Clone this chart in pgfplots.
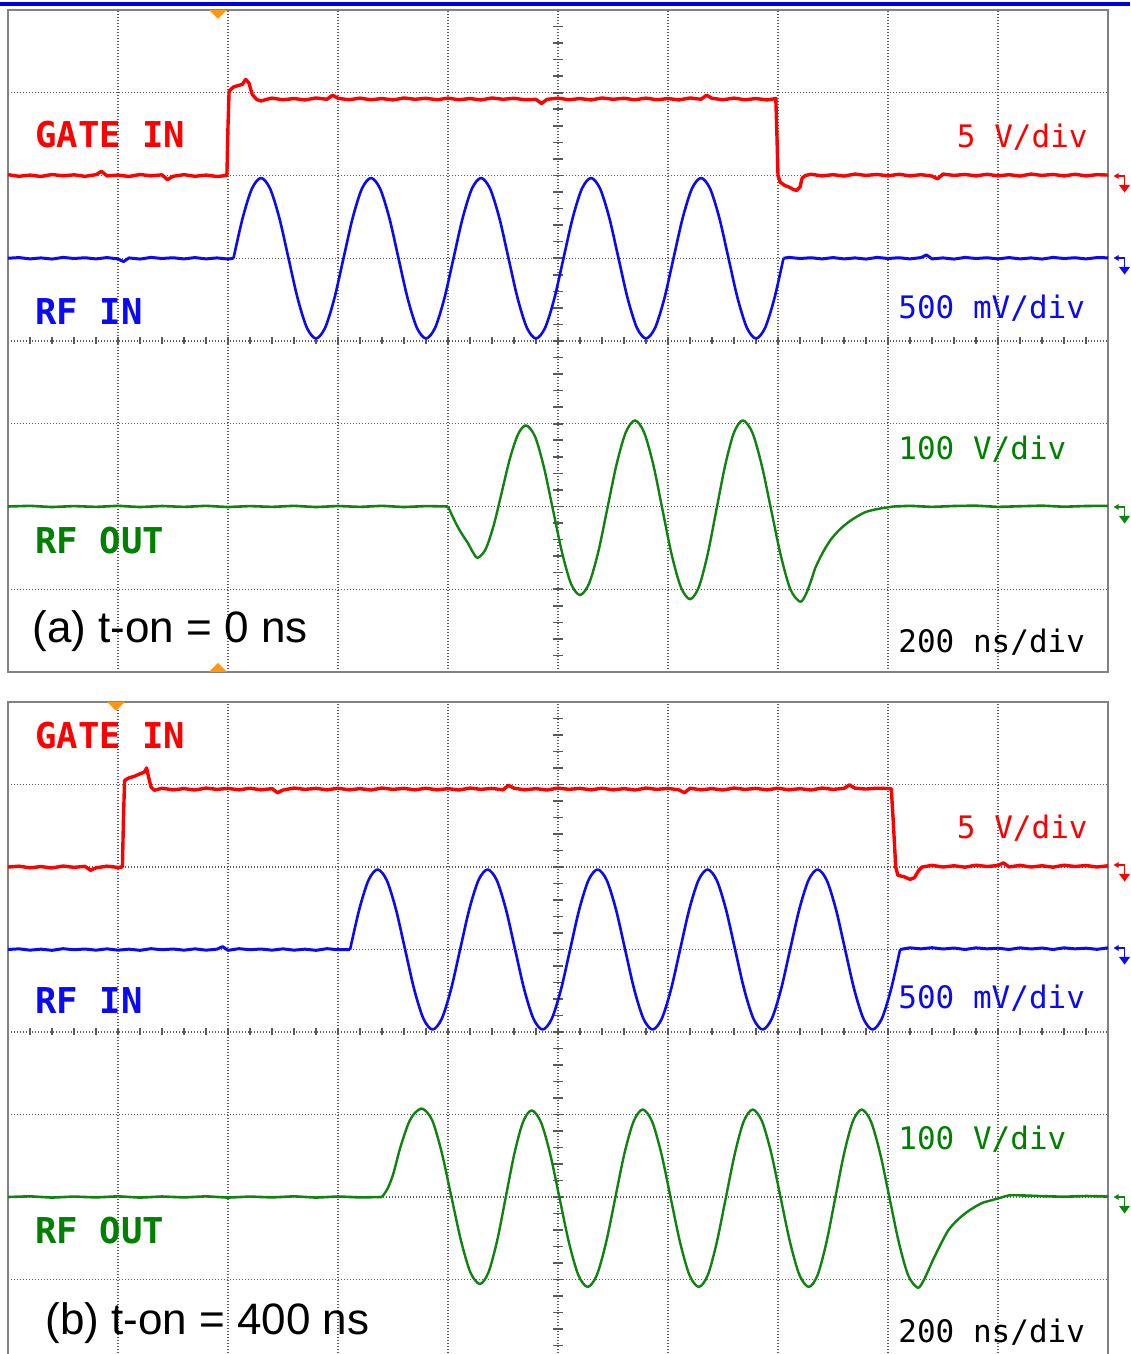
\documentclass[border=0pt]{standalone}
\usepackage{pgfplots}
\pgfplotsset{compat=1.18}
\usepackage{fontspec}
\setmainfont{Liberation Sans}
\newfontfamily\mono{DejaVu Sans Mono}
\definecolor{scred}{RGB}{255,0,0}
\definecolor{scblue}{RGB}{10,10,245}
\definecolor{scgreen}{RGB}{15,130,15}
\definecolor{txtgreen}{RGB}{0,128,0}
\definecolor{trig}{RGB}{255,150,20}
\definecolor{framec}{RGB}{130,130,130}
\definecolor{gridc}{RGB}{90,90,90}
\definecolor{topblue}{RGB}{0,0,230}
\pgfplotsset{osc/.style={
  scale only axis, width=550pt,
  xmin=0, xmax=10, ymin=0, ymax=8,
  xtick={1,2,...,9}, ytick={1,2,...,7},
  xticklabels={}, yticklabels={},
  major tick length=0pt,
  xmajorgrids, ymajorgrids,
  major grid style={draw=gridc, line width=0.7pt, dash pattern=on 0.7pt off 0.8pt},
  axis line style={draw=framec, line width=1pt},
  every axis plot/.append style={line join=round},
  anchor=south west,
}}
\newcommand{\chmark}[2]{%
  \draw[#1, line width=0.7pt] (558pt,#2) -- (562.3pt,#2) -- (562.3pt,#2-4.5pt);
  \fill[#1] (556.8pt,#2) -- (559.3pt,#2+1.5pt) -- (559.3pt,#2-1.5pt) -- cycle;
  \fill[#1] (559.5pt,#2-4.5pt) -- (565pt,#2-4.5pt) -- (562.3pt,#2-8.3pt) -- cycle;}
\begin{document}
\begin{tikzpicture}
\useasboundingbox (0,0) rectangle (565pt,677pt);
\clip (0,0) rectangle (565pt,677pt);
\fill[topblue] (0,674pt) rectangle (565pt,676pt);
% centre tick marks (a)
\foreach \i in {1,...,49} \draw[gridc, line width=0.8pt] ({(4+11*\i)*1pt},504.75pt) -- ++(0,3.5pt);
\foreach \j in {1,...,39} \draw[gridc, line width=0.8pt] (276.5pt,{(341+8.275*\j)*1pt}) -- ++(5pt,0);
% centre tick marks (b)
\foreach \i in {1,...,49} \draw[gridc, line width=0.8pt] ({(4+11*\i)*1pt},159.25pt) -- ++(0,3.5pt);
\foreach \j in {1,...,39} \draw[gridc, line width=0.8pt] (276.5pt,{(-4+8.25*\j)*1pt}) -- ++(5pt,0);

% ================= panel (a) =================
\begin{axis}[osc, at={(4pt,341pt)}, height=331pt]
\addplot[scred, line width=1.7pt] coordinates {
(0,6.01) (0.1,5.99) (0.2,6.005) (0.3,5.988) (0.4,6.012) (0.5,5.996) (0.6,6.008) (0.7,5.99) (0.8,6.01) (0.85,6.05) (0.9,5.995) (1.0,6.005) (1.1,5.988) (1.2,6.012) (1.3,5.996) (1.4,6.008) (1.45,5.95) (1.5,5.99) (1.6,6.01) (1.7,5.99) (1.8,6.005) (1.9,5.988) (1.99,6.0)
(2.0,6.6) (2.01,7.02) (2.05,7.07) (2.1,7.09) (2.13,7.1) (2.16,7.16) (2.19,7.12) (2.22,6.98) (2.26,6.92) (2.3,6.9) (2.35,6.92)
(2.4,6.935) (2.5,6.915) (2.6,6.93) (2.7,6.913) (2.8,6.937) (2.9,6.921) (2.95,6.97) (3.0,6.933) (3.1,6.915) (3.2,6.935) (3.3,6.915) (3.4,6.93) (3.5,6.913) (3.6,6.937) (3.7,6.921) (3.8,6.933) (3.9,6.915) (4.0,6.935) (4.1,6.915) (4.2,6.93) (4.3,6.913) (4.4,6.937) (4.5,6.921) (4.6,6.933) (4.7,6.915) (4.8,6.92) (4.85,6.87) (4.9,6.92) (5.0,6.935) (5.1,6.915) (5.2,6.93) (5.3,6.913) (5.4,6.937) (5.5,6.921) (5.6,6.933) (5.7,6.915) (5.8,6.935) (5.9,6.915) (6.0,6.93) (6.1,6.913) (6.2,6.937) (6.3,6.921) (6.35,6.97) (6.4,6.933) (6.5,6.915) (6.6,6.935) (6.7,6.915) (6.8,6.93) (6.9,6.913) (6.98,6.93)
(6.99,6.5) (7.0,6.0) (7.02,5.92) (7.06,5.88) (7.1,5.86) (7.14,5.83) (7.17,5.82) (7.2,5.86) (7.22,5.97) (7.25,6.0)
(7.3,6.015) (7.4,5.995) (7.5,6.01) (7.6,5.993) (7.7,6.017) (7.8,6.001) (7.9,6.013) (8.0,5.995) (8.1,6.015) (8.2,5.995) (8.3,6.01) (8.4,5.993) (8.45,5.96) (8.5,6.017) (8.6,6.001) (8.7,6.013) (8.8,5.995) (8.9,6.015) (9.0,5.995) (9.1,6.01) (9.2,5.993) (9.3,6.017) (9.4,6.001) (9.5,6.013) (9.6,5.995) (9.7,6.015) (9.8,5.995) (9.9,6.01) (10,6.005)
};
\addplot[scblue, line width=1.5pt] coordinates {
(0,5.0) (0.1,5.008) (0.2,4.992) (0.3,5.004) (0.4,4.99) (0.5,5.01) (0.6,4.997) (0.7,5.006) (0.8,4.992) (0.9,5.008) (1.0,4.992) (1.05,4.96) (1.1,5.004) (1.2,4.99) (1.3,5.01) (1.4,4.997) (1.5,5.006) (1.6,4.992) (1.7,5.008) (1.8,4.992) (1.9,5.004) (2.0,4.99) (2.05,5.0)
};
\addplot[scblue, line width=1.3pt, smooth] coordinates {
(2.050,5.000) (2.133,5.485) (2.217,5.840) (2.300,5.970) (2.383,5.840) (2.467,5.485) (2.550,5.000) (2.633,4.515) (2.717,4.160) (2.800,4.030) (2.883,4.160) (2.967,4.515)
(3.050,5.000) (3.133,5.485) (3.217,5.840) (3.300,5.970) (3.383,5.840) (3.467,5.485) (3.550,5.000) (3.633,4.515) (3.717,4.160) (3.800,4.030) (3.883,4.160) (3.967,4.515)
(4.050,5.000) (4.133,5.485) (4.217,5.840) (4.300,5.970) (4.383,5.840) (4.467,5.485) (4.550,5.000) (4.633,4.515) (4.717,4.160) (4.800,4.030) (4.883,4.160) (4.967,4.515)
(5.050,5.000) (5.133,5.485) (5.217,5.840) (5.300,5.970) (5.383,5.840) (5.467,5.485) (5.550,5.000) (5.633,4.515) (5.717,4.160) (5.800,4.030) (5.883,4.160) (5.967,4.515)
(6.050,5.000) (6.133,5.485) (6.217,5.840) (6.300,5.970) (6.383,5.840) (6.467,5.485) (6.550,5.000) (6.633,4.515) (6.717,4.160) (6.800,4.030) (6.883,4.160) (6.967,4.515)
(7.050,5.000)
};
\addplot[scblue, line width=1.5pt] coordinates {
(7.05,5.0) (7.1,5.01) (7.2,4.997) (7.3,5.006) (7.4,4.992) (7.5,5.008) (7.6,4.992) (7.7,5.004) (7.8,4.99) (7.9,5.01) (8.0,4.997) (8.1,5.006) (8.2,4.992) (8.3,5.008) (8.35,5.04) (8.4,4.992) (8.5,5.004) (8.6,4.99) (8.7,5.01) (8.8,4.997) (8.9,5.006) (9.0,4.992) (9.1,5.008) (9.2,4.992) (9.3,5.004) (9.4,4.99) (9.5,5.01) (9.6,4.997) (9.7,5.006) (9.8,4.992) (9.9,5.008) (10,5.005)
};
\addplot[scgreen, line width=1.3pt] coordinates {
(0,2.0) (0.2,2.008) (0.4,1.993) (0.6,2.005) (0.8,1.995) (1.0,2.008) (1.2,1.993) (1.4,2.006) (1.6,1.995) (1.8,2.008) (2.0,1.993) (2.2,2.005) (2.4,1.995) (2.6,2.008) (2.8,1.993) (3.0,2.006) (3.2,1.995) (3.4,2.008) (3.6,1.993) (3.8,2.005) (4.0,2.0)
};
\addplot[scgreen, line width=1.2pt, smooth] coordinates {
(4.0,2.0) (4.045,1.87) (4.09,1.75) (4.135,1.65) (4.18,1.56) (4.225,1.45) (4.27,1.38) (4.343,1.487) (4.417,1.78) (4.490,2.18) (4.563,2.58) (4.637,2.873) (4.710,2.98) (4.792,2.843) (4.873,2.468) (4.955,1.955) (5.037,1.443) (5.118,1.067) (5.200,0.93) (5.283,1.071) (5.367,1.457) (5.450,1.985) (5.533,2.513) (5.617,2.899) (5.700,3.04) (5.783,2.895) (5.867,2.5) (5.950,1.96) (6.033,1.42) (6.117,1.025) (6.200,0.88) (6.28,1.025) (6.36,1.42) (6.44,1.96) (6.52,2.5) (6.60,2.895) (6.68,3.04) (6.767,2.893) (6.853,2.493) (6.940,1.945) (7.027,1.398) (7.113,0.997) (7.200,0.85) (7.25,0.93) (7.3,1.1) (7.34,1.26) (7.41,1.45) (7.48,1.6) (7.56,1.72) (7.65,1.82) (7.72,1.88) (7.79,1.93) (7.87,1.96) (7.95,1.98) (8.05,2.0)
};
\addplot[scgreen, line width=1.3pt] coordinates {
(8.05,2.0) (8.2,2.008) (8.4,1.995) (8.6,2.006) (8.8,2.01) (9.0,1.995) (9.2,2.003) (9.4,2.01) (9.6,1.997) (9.8,2.006) (10,2.008)
};
\end{axis}

% ================= panel (b) =================
\begin{axis}[osc, at={(4pt,-4pt)}, height=330pt]
\addplot[scred, line width=1.7pt] coordinates {
(0,6.0) (0.1,6.01) (0.2,5.99) (0.3,6.005) (0.4,5.988) (0.5,6.012) (0.6,5.996) (0.7,6.008) (0.75,5.96) (0.8,5.99) (0.9,6.01) (1.0,5.995) (1.04,6.0)
(1.045,6.3) (1.05,6.6) (1.06,7.05) (1.1,7.08) (1.15,7.1) (1.2,7.13) (1.24,7.15) (1.26,7.2) (1.28,7.08) (1.3,6.97) (1.33,6.93)
(1.4,6.955) (1.5,6.935) (1.6,6.95) (1.7,6.933) (1.8,6.957) (1.9,6.941) (2.0,6.953) (2.1,6.935) (2.2,6.955) (2.3,6.935) (2.4,6.95) (2.45,6.9) (2.5,6.933) (2.6,6.957) (2.7,6.941) (2.8,6.953) (2.9,6.935) (3.0,6.955) (3.1,6.935) (3.2,6.95) (3.3,6.933) (3.4,6.957) (3.5,6.941) (3.6,6.953) (3.7,6.935) (3.8,6.955) (3.9,6.935) (4.0,6.95) (4.1,6.933) (4.2,6.957) (4.3,6.941) (4.4,6.953) (4.5,6.935) (4.55,6.99) (4.6,6.955) (4.7,6.935) (4.8,6.95) (4.9,6.933) (5.0,6.957) (5.1,6.941) (5.2,6.953) (5.3,6.935) (5.4,6.955) (5.5,6.935) (5.6,6.95) (5.7,6.933) (5.8,6.957) (5.9,6.941) (6.0,6.953) (6.1,6.935) (6.15,6.9) (6.2,6.955) (6.3,6.935) (6.4,6.95) (6.5,6.933) (6.6,6.957) (6.7,6.941) (6.8,6.953) (6.9,6.935) (7.0,6.955) (7.1,6.935) (7.2,6.95) (7.3,6.933) (7.4,6.957) (7.5,6.941) (7.6,6.953) (7.65,6.995) (7.7,6.955) (7.8,6.945) (7.9,6.955) (8.03,6.95)
(8.05,6.5) (8.07,6.0) (8.09,5.9) (8.15,5.88) (8.2,5.85) (8.24,5.87) (8.28,5.96) (8.31,6.0)
(8.4,6.02) (8.5,6.0) (8.6,6.015) (8.7,5.998) (8.8,6.022) (8.9,6.006) (9.0,6.018) (9.05,6.05) (9.1,6.0) (9.2,6.02) (9.3,6.0) (9.4,6.015) (9.5,5.998) (9.6,6.022) (9.7,6.006) (9.8,6.018) (9.9,6.0) (10,6.015)
};
\addplot[scblue, line width=1.5pt] coordinates {
(0,5.0) (0.1,5.008) (0.2,4.992) (0.3,5.004) (0.4,4.99) (0.5,5.01) (0.6,4.997) (0.7,5.006) (0.8,4.992) (0.9,5.008) (1.0,4.992) (1.1,5.004) (1.2,4.99) (1.3,5.01) (1.4,4.997) (1.5,5.006) (1.6,4.992) (1.7,5.008) (1.8,4.992) (1.9,5.004) (1.95,5.035) (2.0,4.99) (2.1,5.01) (2.2,4.997) (2.3,5.006) (2.4,4.992) (2.5,5.008) (2.6,4.992) (2.7,5.004) (2.8,4.99) (2.9,5.01) (3.0,4.997) (3.11,5.0)
};
\addplot[scblue, line width=1.3pt, smooth] coordinates {
(3.110,5.000) (3.193,5.485) (3.277,5.840) (3.360,5.970) (3.443,5.840) (3.527,5.485) (3.610,5.000) (3.693,4.515) (3.777,4.160) (3.860,4.030) (3.943,4.160) (4.027,4.515)
(4.110,5.000) (4.193,5.485) (4.277,5.840) (4.360,5.970) (4.443,5.840) (4.527,5.485) (4.610,5.000) (4.693,4.515) (4.777,4.160) (4.860,4.030) (4.943,4.160) (5.027,4.515)
(5.110,5.000) (5.193,5.485) (5.277,5.840) (5.360,5.970) (5.443,5.840) (5.527,5.485) (5.610,5.000) (5.693,4.515) (5.777,4.160) (5.860,4.030) (5.943,4.160) (6.027,4.515)
(6.110,5.000) (6.193,5.485) (6.277,5.840) (6.360,5.970) (6.443,5.840) (6.527,5.485) (6.610,5.000) (6.693,4.515) (6.777,4.160) (6.860,4.030) (6.943,4.160) (7.027,4.515)
(7.110,5.000) (7.193,5.485) (7.277,5.840) (7.360,5.970) (7.443,5.840) (7.527,5.485) (7.610,5.000) (7.693,4.515) (7.777,4.160) (7.860,4.030) (7.943,4.160) (8.027,4.515)
(8.110,5.000)
};
\addplot[scblue, line width=1.5pt] coordinates {
(8.11,5.0) (8.2,5.02) (8.3,5.008) (8.4,5.022) (8.5,5.006) (8.6,5.018) (8.7,5.0) (8.8,5.02) (8.9,5.008) (9.0,5.016) (9.1,5.0) (9.2,5.02) (9.3,5.006) (9.4,5.018) (9.5,5.0) (9.6,5.02) (9.7,5.008) (9.8,5.016) (9.9,5.002) (10,5.02)
};
\addplot[scgreen, line width=1.3pt] coordinates {
(0,2.0) (0.2,2.008) (0.4,1.993) (0.6,2.005) (0.8,1.995) (1.0,2.008) (1.2,1.993) (1.4,2.006) (1.6,1.995) (1.8,2.008) (2.0,1.993) (2.2,2.005) (2.4,1.995) (2.6,2.008) (2.8,1.993) (3.0,2.006) (3.2,1.995) (3.4,2.0)
};
\addplot[scgreen, line width=1.2pt, smooth] coordinates {
(3.4,2.0) (3.45,2.1) (3.5,2.27) (3.56,2.57) (3.61,2.78) (3.65,2.92) (3.7,3.02) (3.77,3.07) (3.857,2.928) (3.943,2.539) (4.030,2.008) (4.117,1.477) (4.203,1.088) (4.290,0.945) (4.368,1.087) (4.447,1.472) (4.525,1.998) (4.603,2.524) (4.682,2.909) (4.760,3.05) (4.845,2.907) (4.930,2.515) (5.015,1.98) (5.100,1.445) (5.185,1.053) (5.270,0.91) (5.353,1.054) (5.437,1.448) (5.520,1.985) (5.603,2.523) (5.687,2.916) (5.770,3.06) (5.855,2.916) (5.940,2.523) (6.025,1.985) (6.110,1.448) (6.195,1.054) (6.280,0.91) (6.362,1.054) (6.443,1.448) (6.525,1.985) (6.607,2.523) (6.688,2.916) (6.770,3.06) (6.855,2.916) (6.940,2.523) (7.025,1.985) (7.110,1.448) (7.195,1.054) (7.280,0.91) (7.360,1.054) (7.440,1.448) (7.520,1.985) (7.600,2.523) (7.680,2.916) (7.760,3.06) (7.845,2.915) (7.930,2.52) (8.015,1.98) (8.100,1.44) (8.185,1.045) (8.270,0.90) (8.32,0.98) (8.37,1.12) (8.41,1.24) (8.48,1.43) (8.55,1.6) (8.63,1.72) (8.72,1.82) (8.79,1.88) (8.86,1.93) (8.94,1.96) (9.02,1.99) (9.1,2.02) (9.2,2.02)
};
\addplot[scgreen, line width=1.3pt] coordinates {
(9.2,2.02) (9.4,2.01) (9.6,2.003) (9.8,2.012) (10,2.005)
};
\end{axis}

% trigger markers
\fill[trig] (104.5pt,672pt) -- (113.5pt,672pt) -- (109pt,667.5pt) -- cycle;
\fill[trig] (104.5pt,341pt) -- (113.5pt,341pt) -- (109pt,345.5pt) -- cycle;
\fill[trig] (53.5pt,326pt) -- (62.5pt,326pt) -- (58pt,321.5pt) -- cycle;
% channel markers
\chmark{scred}{589pt}
\chmark{scblue}{548pt}
\chmark{scgreen}{423.5pt}
\chmark{scred}{244.5pt}
\chmark{scblue}{203pt}
\chmark{scgreen}{78.5pt}

\begin{scope}[every node/.style={inner sep=0pt}]
% labels (a)
\node[anchor=base west, text=scred, font=\mono\bfseries\fontsize{17.8}{20}\selectfont] at (17.5pt,603pt) {GATE IN};
\node[anchor=base west, text=scblue, font=\mono\bfseries\fontsize{17.8}{20}\selectfont] at (17.5pt,514.5pt) {RF IN};
\node[anchor=base west, text=txtgreen, font=\mono\bfseries\fontsize{17.8}{20}\selectfont] at (17.5pt,400pt) {RF OUT};
\node[anchor=base east, text=scred, font=\mono\fontsize{15.5}{18}\selectfont] at (544pt,603pt) {5 V/div};
\node[anchor=base west, text=scblue, font=\mono\fontsize{15.5}{18}\selectfont] at (449pt,517.5pt) {500 mV/div};
\node[anchor=base west, text=txtgreen, font=\mono\fontsize{15.5}{18}\selectfont] at (449pt,447pt) {100 V/div};
\node[anchor=base west, text=black, font=\mono\fontsize{15.5}{18}\selectfont] at (449pt,350.5pt) {200 ns/div};
\node[anchor=base west, text=black, font=\fontsize{22}{24}\selectfont] at (16pt,355.5pt) {(a) t-on = 0 ns};
% labels (b)
\node[anchor=base west, text=scred, font=\mono\bfseries\fontsize{17.8}{20}\selectfont] at (17.5pt,302.5pt) {GATE IN};
\node[anchor=base west, text=scblue, font=\mono\bfseries\fontsize{17.8}{20}\selectfont] at (17.5pt,170pt) {RF IN};
\node[anchor=base west, text=txtgreen, font=\mono\bfseries\fontsize{17.8}{20}\selectfont] at (17.5pt,55pt) {RF OUT};
\node[anchor=base east, text=scred, font=\mono\fontsize{15.5}{18}\selectfont] at (544pt,257.5pt) {5 V/div};
\node[anchor=base west, text=scblue, font=\mono\fontsize{15.5}{18}\selectfont] at (449pt,172.5pt) {500 mV/div};
\node[anchor=base west, text=txtgreen, font=\mono\fontsize{15.5}{18}\selectfont] at (449pt,102pt) {100 V/div};
\node[anchor=base west, text=black, font=\mono\fontsize{15.5}{18}\selectfont] at (449pt,5.5pt) {200 ns/div};
\node[anchor=base west, text=black, font=\fontsize{22}{24}\selectfont] at (22.5pt,9.5pt) {(b) t-on = 400 ns};
\end{scope}
\end{tikzpicture}
\end{document}
